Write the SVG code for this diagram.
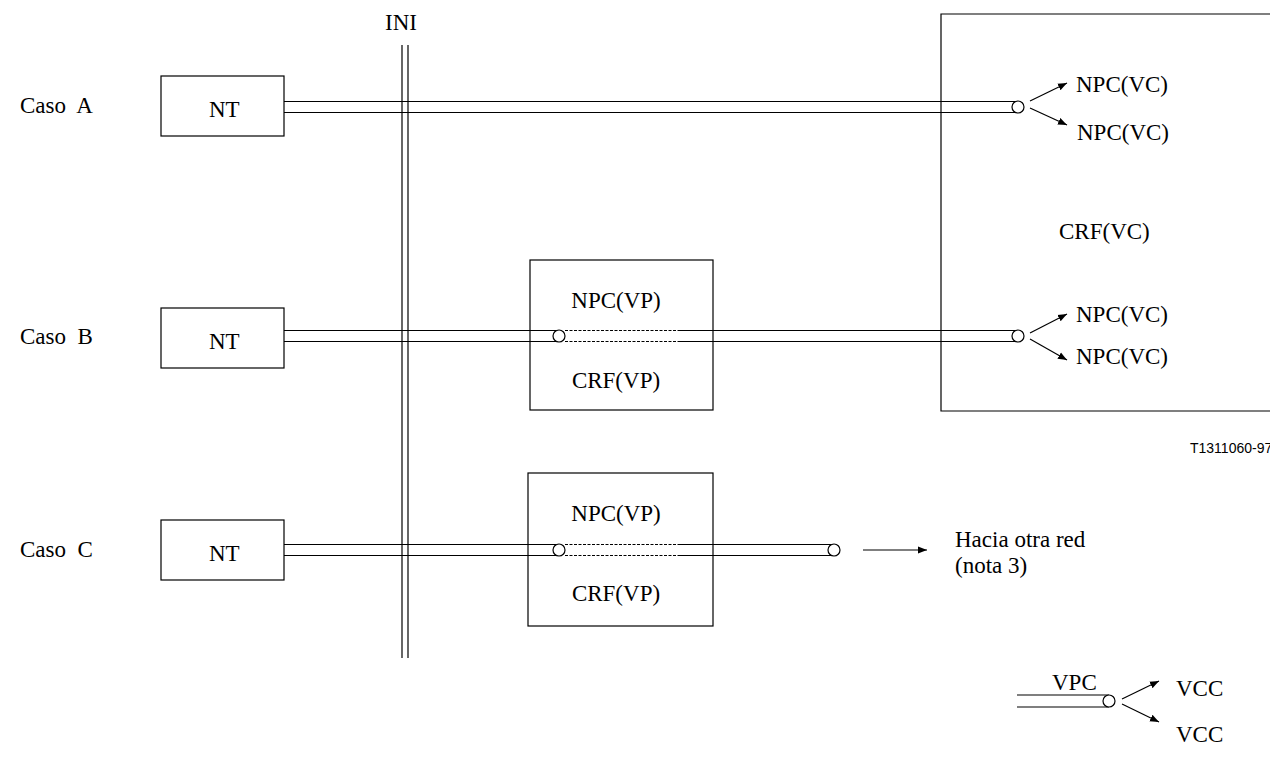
<svg xmlns="http://www.w3.org/2000/svg" width="1270" height="765" viewBox="0 0 1270 765">
<style>
.t{font-family:"Liberation Serif",serif;font-size:23px;fill:#000;white-space:pre}
.s{font-family:"Liberation Sans",sans-serif;font-size:14px;fill:#000}
.b{fill:none;stroke:#000;stroke-width:1.2}
.p{stroke:#000;stroke-width:1.2;fill:none}
.d{stroke:#000;stroke-width:1.2;stroke-dasharray:3,1.5;fill:none}
.c{fill:#fff;stroke:#000;stroke-width:1.2}
.a{stroke:#000;stroke-width:1.2;fill:none;marker-end:url(#ah)}
</style>
<defs>
<marker id="ah" viewBox="0 0 10 10" refX="10" refY="5" markerWidth="9" markerHeight="9" markerUnits="userSpaceOnUse" orient="auto"><path d="M0,1 L10,5 L0,9 z" fill="#000"/></marker>
</defs>
<rect width="1270" height="765" fill="#fff"/>
<g id="labels">
<text class="t" x="20" y="113" xml:space="preserve">Caso  A</text>
<text class="t" x="20" y="344" xml:space="preserve">Caso  B</text>
<text class="t" x="20" y="557" xml:space="preserve">Caso  C</text>
<text class="t" x="385" y="30">INI</text>
<text class="s" x="1190" y="453">T1311060-97</text>
</g>
<g id="crf-vc">
<path class="b" d="M1270,14 H941 V411 H1270"/>
<text class="t" x="1059" y="239">CRF(VC)</text>
</g>
<g id="ini">
<line class="p" x1="402" y1="45" x2="402" y2="658"/>
<line class="p" x1="408" y1="45" x2="408" y2="658"/>
</g>
<g id="ntA"><rect class="b" x="161" y="76" width="123" height="60"/><text class="t" x="209" y="117">NT</text></g>
<g id="ntB"><rect class="b" x="161" y="308" width="123" height="60"/><text class="t" x="209" y="349">NT</text></g>
<g id="ntC"><rect class="b" x="161" y="520" width="123" height="60"/><text class="t" x="209" y="561">NT</text></g>
<g id="boxB"><rect class="b" x="530" y="260" width="183" height="150"/>
<text class="t" x="616" y="308" text-anchor="middle">NPC(VP)</text>
<text class="t" x="616" y="388" text-anchor="middle">CRF(VP)</text></g>
<g id="boxC"><rect class="b" x="528" y="473" width="185" height="153"/>
<text class="t" x="616" y="521" text-anchor="middle">NPC(VP)</text>
<text class="t" x="616" y="601" text-anchor="middle">CRF(VP)</text></g>
<g id="hacia"><text class="t" x="955" y="547">Hacia otra red</text><text class="t" x="955" y="573">(nota 3)</text></g>
<g id="npcA"><text class="t" x="1076" y="92">NPC(VC)</text><text class="t" x="1077" y="140">NPC(VC)</text></g>
<g id="npcB"><text class="t" x="1076" y="322">NPC(VC)</text><text class="t" x="1076" y="364">NPC(VC)</text></g>
<g id="legend"><text class="t" x="1052" y="690">VPC</text><text class="t" x="1176" y="696">VCC</text><text class="t" x="1176" y="742">VCC</text></g>
<g id="connectors">
<line class="p" x1="284" y1="101.5" x2="1018" y2="101.5"/>
<line class="p" x1="284" y1="112.5" x2="1018" y2="112.5"/>
<circle class="c" cx="1018" cy="107" r="6"/>
<line class="a" x1="1030" y1="101" x2="1067" y2="83"/>
<line class="a" x1="1030" y1="108" x2="1067" y2="125"/>
<line class="p" x1="284" y1="330.5" x2="559" y2="330.5"/>
<line class="p" x1="284" y1="341.5" x2="559" y2="341.5"/>
<line class="d" x1="565" y1="330.5" x2="680" y2="330.5"/>
<line class="d" x1="565" y1="341.5" x2="680" y2="341.5"/>
<line class="p" x1="680" y1="330.5" x2="1018" y2="330.5"/>
<line class="p" x1="680" y1="341.5" x2="1018" y2="341.5"/>
<circle class="c" cx="559" cy="336" r="6"/>
<circle class="c" cx="1018" cy="336" r="6"/>
<line class="a" x1="1030" y1="333" x2="1067" y2="314"/>
<line class="a" x1="1030" y1="339" x2="1067" y2="360"/>
<line class="p" x1="284" y1="544.5" x2="559" y2="544.5"/>
<line class="p" x1="284" y1="555.5" x2="559" y2="555.5"/>
<line class="d" x1="565" y1="544.5" x2="680" y2="544.5"/>
<line class="d" x1="565" y1="555.5" x2="680" y2="555.5"/>
<line class="p" x1="680" y1="544.5" x2="834" y2="544.5"/>
<line class="p" x1="680" y1="555.5" x2="834" y2="555.5"/>
<circle class="c" cx="559" cy="550" r="6"/>
<circle class="c" cx="834" cy="550" r="6"/>
<line class="a" x1="863" y1="550" x2="927" y2="550"/>
<line class="p" x1="1017" y1="695" x2="1109" y2="695"/>
<line class="p" x1="1017" y1="707" x2="1109" y2="707"/>
<circle class="c" cx="1109" cy="701" r="6"/>
<line class="a" x1="1122" y1="699" x2="1159" y2="681"/>
<line class="a" x1="1122" y1="704" x2="1159" y2="722"/>
</g>
</svg>
